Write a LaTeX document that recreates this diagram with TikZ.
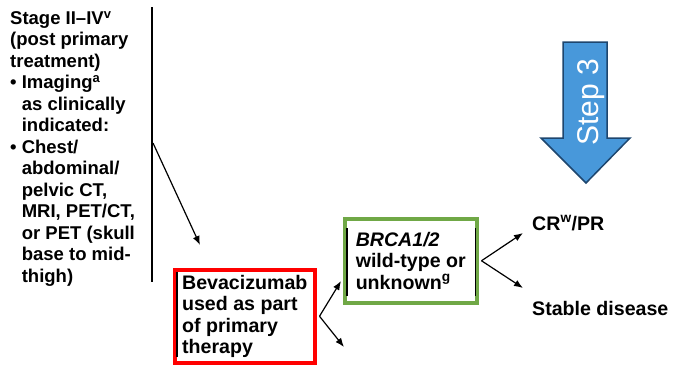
\documentclass[tikz,border=0pt]{standalone}
\usepackage{fontspec}
\setmainfont{Liberation Sans}
\usetikzlibrary{arrows.meta}
\definecolor{boxred}{RGB}{255,0,0}
\definecolor{boxgreen}{RGB}{112,168,70}
\definecolor{stepblue}{RGB}{72,152,218}
\definecolor{stepedge}{RGB}{30,70,110}
\tikzset{
  txt/.style={font=\fontsize{18.5}{21.5}\selectfont\bfseries, align=left, inner sep=0pt},
  outcome/.style={txt, font=\fontsize{19.6}{21.5}\selectfont\bfseries, anchor=base west},
  decision/.style={outcome, draw, line width=3.5pt, anchor=north west},
  bar/.style={line width=1.8pt},
  arr/.style={line width=1.2pt, -{Latex[length=9pt,width=7pt]}}
}
\begin{document}
\begin{tikzpicture}[x=1pt,y=-1pt]
    \useasboundingbox (0,0) rectangle (673,365);

    % left column
    \node[txt, anchor=north west] (stage) at (10,11) {Stage II\textendash IV\textsuperscript{v}\\
      (post primary\\treatment)\\
      \textbullet\ Imaging\textsuperscript{a}\\
      \phantom{\textbullet\ }as clinically\\
      \phantom{\textbullet\ }indicated:\\
      \textbullet\ Chest/\\
      \phantom{\textbullet\ }abdominal/\\
      \phantom{\textbullet\ }pelvic CT,\\
      \phantom{\textbullet\ }MRI, PET/CT,\\
      \phantom{\textbullet\ }or PET (skull\\
      \phantom{\textbullet\ }base to mid-\\
      \phantom{\textbullet\ }thigh)};
    \coordinate (ltop) at (152,7);
    \coordinate (lbot) at (152,282);
    \draw[bar] (ltop) -- (lbot);
    \coordinate (lfork) at (153,143);
    \coordinate (lend) at (200,245);
    \draw[arr] (lfork) -- (lend);

    % bevacizumab box
    \node[decision, draw=boxred, minimum width=140pt, minimum height=93pt] (beva) at (173,268)
      {Bevacizumab\\used as part\\of primary\\therapy};
    \draw[bar] ([xshift=4pt,yshift=-4pt]beva.north west) -- ([xshift=4pt,yshift=8pt]beva.south west);
    \coordinate (bfork) at ([xshift=3pt]beva.east);
    \coordinate (bdown) at (344,347);

    % brca box
    \node[decision, draw=boxgreen, minimum width=132pt, minimum height=84pt] (brca) at (343,217)
      {\textit{BRCA1/2}\\wild-type or\\unknown\textsuperscript{g}};
    \draw[bar] ([xshift=4pt,yshift=-11pt]brca.north west) -- ([xshift=4pt,yshift=9pt]brca.south west);
    \draw[bar] ([xshift=-3pt,yshift=-11pt]brca.north east) -- ([xshift=-3pt,yshift=9pt]brca.south east);
    \coordinate (bup) at (341,281);
    \draw[arr] (bfork) -- (bup);
    \draw[arr] (bfork) -- (bdown);

    % outcomes
    \node[outcome] (cr) at (532,230) {CR\textsuperscript{w}/PR};
    \node[outcome] (sd) at (532,315) {Stable disease};
    \coordinate (gfork) at ([xshift=3pt]brca.east);
    \coordinate (crend) at (523,233);
    \coordinate (sdend) at (523,288);
    \draw[arr] (gfork) -- (crend);
    \draw[arr] (gfork) -- (sdend);

    % step arrow
    \draw[fill=stepblue, draw=stepedge, line width=1.5pt] (563,42) -- (607,42) -- (607,138)
      -- (630,138) -- (586,183) -- (541,138) -- (563,138) -- cycle;
    \node[rotate=90, anchor=base, text=white, font=\fontsize{30}{30}\selectfont] (step) at (598,102) {Step 3};
\end{tikzpicture}
\end{document}
